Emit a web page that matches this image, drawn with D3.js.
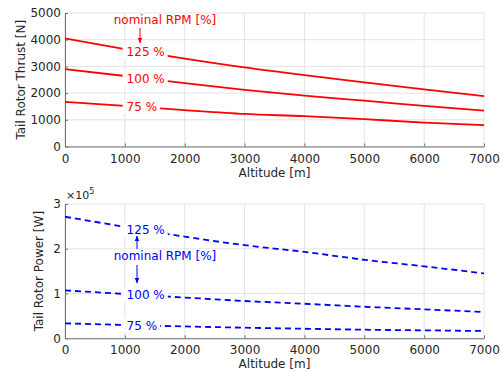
<!DOCTYPE html>
<html>
<head>
<meta charset="utf-8">
<script src="https://cdn.jsdelivr.net/npm/d3@7"></script>
<style>
  body { margin: 0; background: #fff; }
  text { font-family: "DejaVu Sans", sans-serif; }
</style>
</head>
<body>
<script>
// altitude [m]
var altitudes = [0, 1000, 2000, 3000, 4000, 5000, 6000, 7000];

// tail rotor thrust [N]
var thrust125 = [4045, 3650, 3290, 2960, 2675, 2403, 2142, 1890];
var thrust100 = [2900, 2640, 2370, 2120, 1903, 1716, 1519, 1343];
var thrust75 = [1668, 1520, 1365, 1222, 1134, 1022, 896, 799];

// tail rotor power [W]
var power125 = [271500, 249000, 227000, 208000, 193000, 175400, 160700, 145000];
var power100 = [107000, 99000, 91000, 83300, 77200, 70500, 64700, 58700];
var power75 = [33500, 29700, 26500, 23700, 21400, 19200, 17800, 16300];

var rpmLabels = ["125 %", "100 %", "75 %"];
var xTicks = [0, 1000, 2000, 3000, 4000, 5000, 6000, 7000];
var thrustTicks = [0, 1000, 2000, 3000, 4000, 5000];
var powerTicks = [0, 1, 2, 3];

var W = 502, H = 374;
var FS = 12;
var labelAlt = 1330;

var svg = d3.select("body").append("svg")
  .attr("width", W)
  .attr("height", H);

var defs = svg.append("defs");
function arrowMarker(id, color) {
  defs.append("marker")
    .attr("id", id)
    .attr("viewBox", "0 0 10 10")
    .attr("refX", 9).attr("refY", 5)
    .attr("markerWidth", 6).attr("markerHeight", 6)
    .attr("orient", "auto")
    .append("path")
    .attr("d", "M0,1 L10,5 L0,9 Z")
    .attr("fill", color);
}
arrowMarker("arRed", "#ff0000");
arrowMarker("arBlue", "#0000ff");

var x = d3.scaleLinear().domain([0, 7000]).range([65, 484]);

function valueAt(series, alt) {
  var i = d3.bisectRight(altitudes, alt) - 1;
  var t = (alt - altitudes[i]) / (altitudes[i + 1] - altitudes[i]);
  return series[i] + t * (series[i + 1] - series[i]);
}

function panel(opt) {
  var y = opt.y;
  var g = svg.append("g");

  // grid
  g.selectAll(".gx").data(xTicks).enter().append("line")
    .attr("x1", d => x(d)).attr("x2", d => x(d))
    .attr("y1", y.range()[0]).attr("y2", y.range()[1])
    .attr("stroke", "#e3e3e3").attr("stroke-width", 1);
  g.selectAll(".gy").data(opt.yTicks).enter().append("line")
    .attr("x1", x.range()[0]).attr("x2", x.range()[1])
    .attr("y1", d => y(d)).attr("y2", d => y(d))
    .attr("stroke", "#e3e3e3").attr("stroke-width", 1);

  // axes, ticks point inward like matlab
  var xa = g.append("g")
    .attr("transform", `translate(0,${y.range()[0]})`)
    .call(d3.axisBottom(x).tickValues(xTicks).tickFormat(d3.format("d"))
      .tickSizeInner(-3).tickSizeOuter(0).tickPadding(7.5));
  var ya = g.append("g")
    .attr("transform", `translate(${x.range()[0]},0)`)
    .call(d3.axisLeft(y).tickValues(opt.yTicks).tickFormat(opt.fmt)
      .tickSizeInner(-3).tickSizeOuter(0).tickPadding(4));
  [xa, ya].forEach(a => {
    a.select(".domain").attr("stroke", "#707070").attr("stroke-width", 1);
    a.selectAll(".tick line").attr("stroke", "#707070");
    a.selectAll("text").attr("font-size", FS).attr("fill", "#262626");
  });

  g.append("text")
    .attr("x", (x.range()[0] + x.range()[1]) / 2)
    .attr("y", y.range()[0] + 30)
    .attr("text-anchor", "middle")
    .attr("font-size", FS).attr("fill", "#262626")
    .text("Altitude [m]");
  g.append("text")
    .attr("transform", `translate(${opt.ylabX},${(y.range()[0] + y.range()[1]) / 2}) rotate(-90)`)
    .attr("text-anchor", "middle")
    .attr("dy", "0.35em")
    .attr("font-size", FS).attr("fill", "#262626")
    .text(opt.ylabel);

  var line = d3.line()
    .x((d, i) => x(altitudes[i]))
    .y(d => y(d))
    .curve(d3.curveMonotoneX);

  opt.series.forEach((s, k) => {
    g.append("path")
      .attr("d", line(s))
      .attr("fill", "none")
      .attr("stroke", opt.color)
      .attr("stroke-width", 1.8)
      .attr("stroke-dasharray", opt.dash);

    // contour-style label: left aligned, white box cuts the line
    var lx = x(labelAlt) - 18, ly = y(valueAt(s, labelAlt));
    var bg = g.append("rect").attr("fill", "#fff");
    var t = g.append("text")
      .attr("x", lx).attr("y", ly)
      .attr("dy", "0.35em")
      .attr("font-size", FS)
      .attr("fill", opt.color)
      .text(rpmLabels[k]);
    var bb = t.node().getBBox();
    bg.attr("x", bb.x - 4).attr("y", ly - 7)
      .attr("width", bb.width + 7).attr("height", 14);
  });
  return g;
}

// top: thrust
var yT = d3.scaleLinear().domain([0, 5000]).range([146.5, 13]);
var gT = panel({
  y: yT, yTicks: thrustTicks, fmt: d3.format("d"),
  ylabel: "Tail Rotor Thrust [N]", ylabX: 21,
  series: [thrust125, thrust100, thrust75],
  color: "#ff0000", dash: null
});
gT.append("text")
  .attr("x", 165).attr("y", 24)
  .attr("text-anchor", "middle")
  .attr("font-size", FS).attr("fill", "#ff0000")
  .text("nominal RPM [%]");
gT.append("line")
  .attr("x1", 140).attr("x2", 140)
  .attr("y1", 28).attr("y2", 43)
  .attr("stroke", "#ff0000").attr("stroke-width", 1)
  .attr("marker-end", "url(#arRed)");

// bottom: power (x 10^5)
var yP = d3.scaleLinear().domain([0, 3]).range([338.3, 204]);
var toP = v => v / 1e5;
var gP = panel({
  y: yP, yTicks: powerTicks, fmt: d3.format("d"),
  ylabel: "Tail Rotor Power [W]", ylabX: 39,
  series: [power125.map(toP), power100.map(toP), power75.map(toP)],
  color: "#0000ff", dash: "6,4"
});
var mult = gP.append("text")
  .attr("x", 66).attr("y", 199)
  .attr("font-size", 11).attr("fill", "#262626");
mult.append("tspan").text("\u00d710");
mult.append("tspan").attr("dy", -5).attr("font-size", 8).text("5");

gP.append("text")
  .attr("x", 165).attr("y", 260)
  .attr("text-anchor", "middle")
  .attr("font-size", FS).attr("fill", "#0000ff")
  .text("nominal RPM [%]");
gP.append("line")
  .attr("x1", 137).attr("x2", 137)
  .attr("y1", 249).attr("y2", 236)
  .attr("stroke", "#0000ff").attr("stroke-width", 1)
  .attr("marker-end", "url(#arBlue)");
gP.append("line")
  .attr("x1", 137).attr("x2", 137)
  .attr("y1", 265).attr("y2", 283)
  .attr("stroke", "#0000ff").attr("stroke-width", 1)
  .attr("marker-end", "url(#arBlue)");
</script>
</body>
</html>
